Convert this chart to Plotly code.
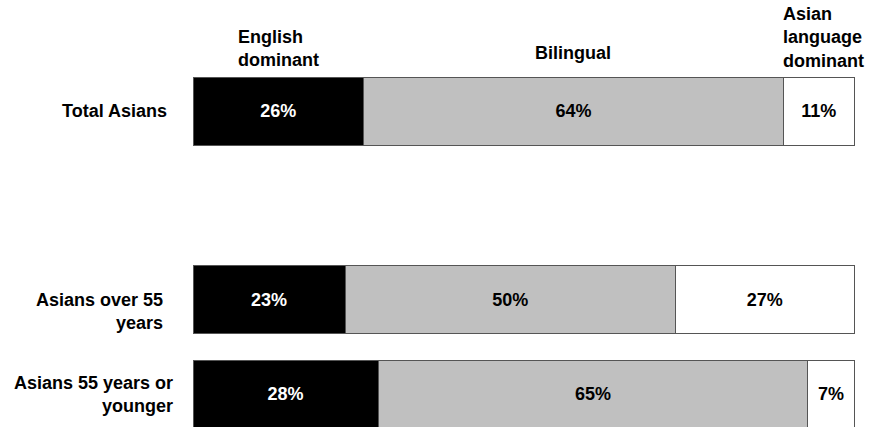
import plotly.graph_objects as go

# ---- data ----
categories = ["Total Asians", "Asians over 55<br>years", "Asians 55 years or<br>younger"]
row_pos = [0, 2, 3]  # an empty slot between the first row and the others
series_names = ["English<br>dominant", "Bilingual", "Asian<br>language<br>dominant"]
english = [25.8, 23, 28]
bilingual = [63.5, 50, 65]
asian_lang = [10.7, 27, 7]
english_lbl = ["26%", "23%", "28%"]
bilingual_lbl = ["64%", "50%", "65%"]
asian_lbl = ["11%", "27%", "7%"]

W, H = 870, 427
XMAX = 100.3
L, T, B = 193, 64, 0
PW = round(661 * XMAX / 100)
R = W - L - PW
PH = H - T - B

def px_x(px):
    return (px - L) / PW

def px_y(py):
    return 1 - (py - T) / PH

FONT = "Liberation Sans, Arial, sans-serif"
fill_colors = ["#000000", "#c0c0c0", "#ffffff"]
text_colors = ["#ffffff", "#000000", "#000000"]

fig = go.Figure()
for vals, lbls, fc, tc, nm in zip([english, bilingual, asian_lang],
                                  [english_lbl, bilingual_lbl, asian_lbl],
                                  fill_colors, text_colors, series_names):
    fig.add_trace(go.Bar(
        y=row_pos, x=vals, orientation="h", name=nm,
        text=lbls, textposition="inside", insidetextanchor="middle",
        textfont=dict(family=FONT, size=18, color=tc, weight="bold"),
        marker=dict(color=fc, line=dict(color="#555555", width=1)),
        width=0.72, constraintext="none", hoverinfo="skip",
    ))

annotations = []
# category labels (right edge px, center y px)
cat_pos = [(167, 111), (163, 311), (173, 394)]
for txt, (rx, cy) in zip(categories, cat_pos):
    annotations.append(dict(
        text=txt, xref="paper", yref="paper", x=px_x(rx + 2), y=px_y(cy),
        xanchor="right", yanchor="middle", align="right", showarrow=False,
        font=dict(family=FONT, size=18, color="#000000", weight="bold"),
    ))
# column headers (left edge px, center y px)
head_pos = [(238, 49), (535, 53), (783, 38)]
for txt, (lx, cy) in zip(series_names, head_pos):
    annotations.append(dict(
        text=txt, xref="paper", yref="paper", x=px_x(lx - 2), y=px_y(cy),
        xanchor="left", yanchor="middle", align="left", showarrow=False,
        font=dict(family=FONT, size=18, color="#000000", weight="bold"),
    ))

fig.update_layout(
    width=W, height=H, barmode="stack", showlegend=False,
    margin=dict(l=L, r=R, t=T, b=B, pad=0),
    paper_bgcolor="white", plot_bgcolor="white",
    xaxis=dict(range=[0, XMAX], visible=False, fixedrange=True),
    yaxis=dict(range=[3.35, -0.5], visible=False, fixedrange=True),
    annotations=annotations,
    uniformtext=dict(mode=False),
)

fig.write_html(
    "out.html",
    config={"displayModeBar": False},
    post_script="document.body.style.margin='0';document.body.style.overflow='hidden';",
)
